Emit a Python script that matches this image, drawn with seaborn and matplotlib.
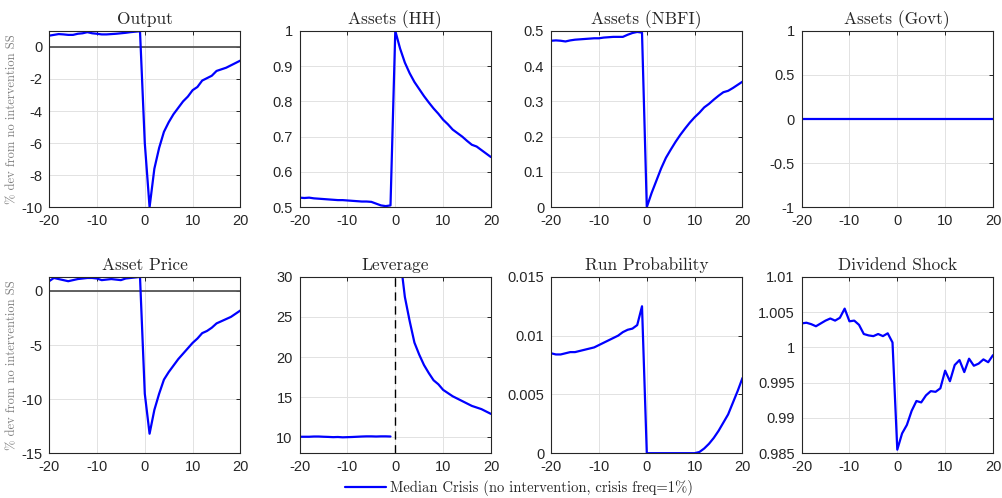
import numpy as np
import pandas as pd
import matplotlib
matplotlib.use("Agg")
import matplotlib.pyplot as plt
import matplotlib.ticker as mticker
from matplotlib.lines import Line2D
import seaborn as sns

# horizon (quarters around the crisis) #
periods = list(range(-20, 21))

output = [0.70, 0.75, 0.80, 0.78, 0.75, 0.75, 0.82, 0.85, 0.92, 0.85, 0.82, 0.78, 0.78,
          0.80, 0.82, 0.85, 0.88, 0.92, 0.95, 0.98,
          -6.0, -10.0, -7.6, -6.3, -5.3, -4.7, -4.2, -3.8, -3.4, -3.1, -2.7, -2.5, -2.1,
          -1.95, -1.8, -1.5, -1.4, -1.3, -1.15, -1.0, -0.85]

assets_hh = [0.527, 0.526, 0.527, 0.525, 0.524, 0.523, 0.522, 0.521, 0.520, 0.520, 0.519,
             0.518, 0.517, 0.516, 0.516, 0.515, 0.510, 0.505, 0.503, 0.505,
             1.0, 0.95, 0.91, 0.88, 0.855, 0.835, 0.815, 0.797, 0.78, 0.765, 0.748, 0.735,
             0.72, 0.71, 0.70, 0.688, 0.677, 0.672, 0.662, 0.652, 0.642]

assets_nbfi = [0.472, 0.473, 0.472, 0.470, 0.473, 0.475, 0.476, 0.477, 0.478, 0.479, 0.479,
               0.481, 0.482, 0.483, 0.483, 0.483, 0.489, 0.494, 0.497, 0.495,
               0.0, 0.04, 0.075, 0.11, 0.14, 0.163, 0.185, 0.205, 0.223, 0.24, 0.255, 0.268,
               0.283, 0.293, 0.305, 0.316, 0.326, 0.330, 0.338, 0.347, 0.356]

assets_govt = [0.0] * 41

asset_price = [0.9, 1.2, 1.1, 1.0, 0.9, 1.0, 1.1, 1.15, 1.2, 1.2, 1.15, 1.0, 1.05, 1.1,
               1.05, 1.0, 1.15, 1.2, 1.25, 1.3,
               -9.5, -13.2, -11.0, -9.5, -8.2, -7.5, -6.9, -6.3, -5.8, -5.3, -4.8, -4.4,
               -3.9, -3.7, -3.4, -3.0, -2.8, -2.6, -2.4, -2.1, -1.8]

leverage = [10.05, 10.05, 10.05, 10.08, 10.08, 10.05, 10.03, 10.0, 10.02, 9.98, 10.0,
            10.02, 10.05, 10.08, 10.1, 10.1, 10.08, 10.1, 10.1, 10.08,
            np.nan, 32.5, 27.5, 24.5, 21.8, 20.3, 19.0, 18.0, 17.1, 16.6, 15.9, 15.5, 15.1,
            14.8, 14.5, 14.2, 13.9, 13.7, 13.5, 13.2, 12.9]

run_prob = [0.0085, 0.0084, 0.0084, 0.0085, 0.0086, 0.0086, 0.0087, 0.0088, 0.0089, 0.0090,
            0.0092, 0.0094, 0.0096, 0.0098, 0.0100, 0.0103, 0.0105, 0.0106, 0.0109, 0.0125,
            0.0, 0.0, 0.0, 0.0, 0.0, 0.0, 0.0, 0.0, 0.0, 0.0, 0.0, 0.0001, 0.0004, 0.0008,
            0.0013, 0.0019, 0.0026, 0.0033, 0.0043, 0.0053, 0.0064]

dividend = [1.0034, 1.0035, 1.0033, 1.0030, 1.0034, 1.0038, 1.0041, 1.0038, 1.0042, 1.0055,
            1.0037, 1.0038, 1.0032, 1.0019, 1.0017, 1.0016, 1.0019, 1.0016, 1.0020, 1.0007,
            0.9855, 0.9878, 0.9890, 0.9910, 0.9924, 0.9922, 0.9932, 0.9938, 0.9937, 0.9942,
            0.9967, 0.9952, 0.9975, 0.9982, 0.9965, 0.9984, 0.9974, 0.9977, 0.9983, 0.9979,
            0.9989]

titles = ["Output", "Assets (HH)", "Assets (NBFI)", "Assets (Govt)",
          "Asset Price", "Leverage", "Run Probability", "Dividend Shock"]
series = [output, assets_hh, assets_nbfi, assets_govt,
          asset_price, leverage, run_prob, dividend]
ylims = [(-10, 1), (0.5, 1), (0, 0.5), (-1, 1),
         (-15, 1.3), (8, 30), (0, 0.015), (0.985, 1.01)]
yticks = [[-10, -8, -6, -4, -2, 0], [0.5, 0.6, 0.7, 0.8, 0.9, 1], [0, 0.1, 0.2, 0.3, 0.4, 0.5],
          [-1, -0.5, 0, 0.5, 1], [-15, -10, -5, 0], [10, 15, 20, 25, 30],
          [0, 0.005, 0.01, 0.015], [0.985, 0.99, 0.995, 1, 1.005, 1.01]]
ylabel = "% dev from no intervention SS"
legend_label = "Median Crisis (no intervention, crisis freq=1%)"

sns.set_style("white")
plt.rcParams['font.family'] = ['Liberation Sans', 'DejaVu Sans']
plt.rcParams['axes.unicode_minus'] = False
serif = ['cmr10', 'DejaVu Serif']
blue = '#0000ff'

fig = plt.figure(figsize=(10.02, 4.98), dpi=100)
lefts = [0.049, 0.299, 0.550, 0.800]
bottoms = [0.584, 0.090]
w, h = 0.191, 0.354

for i in range(8):
    ax = fig.add_axes([lefts[i % 4], bottoms[i // 4], w, h])
    df = pd.DataFrame({'t': periods, 'v': series[i]})
    if titles[i] == "Leverage":
        # gap at the crisis date #
        sns.lineplot(data=df[df.t < 0], x='t', y='v', ax=ax, color=blue, lw=1.6)
        sns.lineplot(data=df[df.t > 0], x='t', y='v', ax=ax, color=blue, lw=1.6)
        ax.axvline(0, color='black', lw=1.0, ls=(0, (6, 4)))
    else:
        sns.lineplot(data=df, x='t', y='v', ax=ax, color=blue, lw=1.6)
    if titles[i] in ("Output", "Asset Price"):
        ax.axhline(0, color='#555555', lw=1.3, zorder=1)
    ax.set_xlim(-20, 20)
    ax.set_ylim(*ylims[i])
    ax.set_xticks([-20, -10, 0, 10, 20])
    ax.set_yticks(yticks[i])
    ax.yaxis.set_major_formatter(mticker.FormatStrFormatter('%g'))
    ax.grid(True, color='#e2e2e2', lw=0.7)
    ax.tick_params(direction='in', length=3, width=0.7, colors='#262626',
                   labelsize=10.5, top=True, right=True)
    ax.tick_params(axis='x', pad=5)
    ax.tick_params(axis='y', pad=5)
    for sp in ax.spines.values():
        sp.set_visible(True)
        sp.set_color('#262626')
        sp.set_linewidth(0.8)
    ax.set_xlabel('')
    ax.set_title(titles[i], family=serif, fontsize=12.5, pad=5)
    if i % 4 == 0:
        ax.set_ylabel(ylabel, family=serif, fontsize=9, color='#808080', labelpad=2)
    else:
        ax.set_ylabel('')

handle = Line2D([], [], color=blue, lw=1.6)
fig.legend([handle], [legend_label], loc='lower center', bbox_to_anchor=(0.518, -0.022),
           frameon=False, handlelength=2.8, handletextpad=0.3,
           prop={'family': serif, 'size': 10.5})

plt.savefig('out.png', dpi=100)
